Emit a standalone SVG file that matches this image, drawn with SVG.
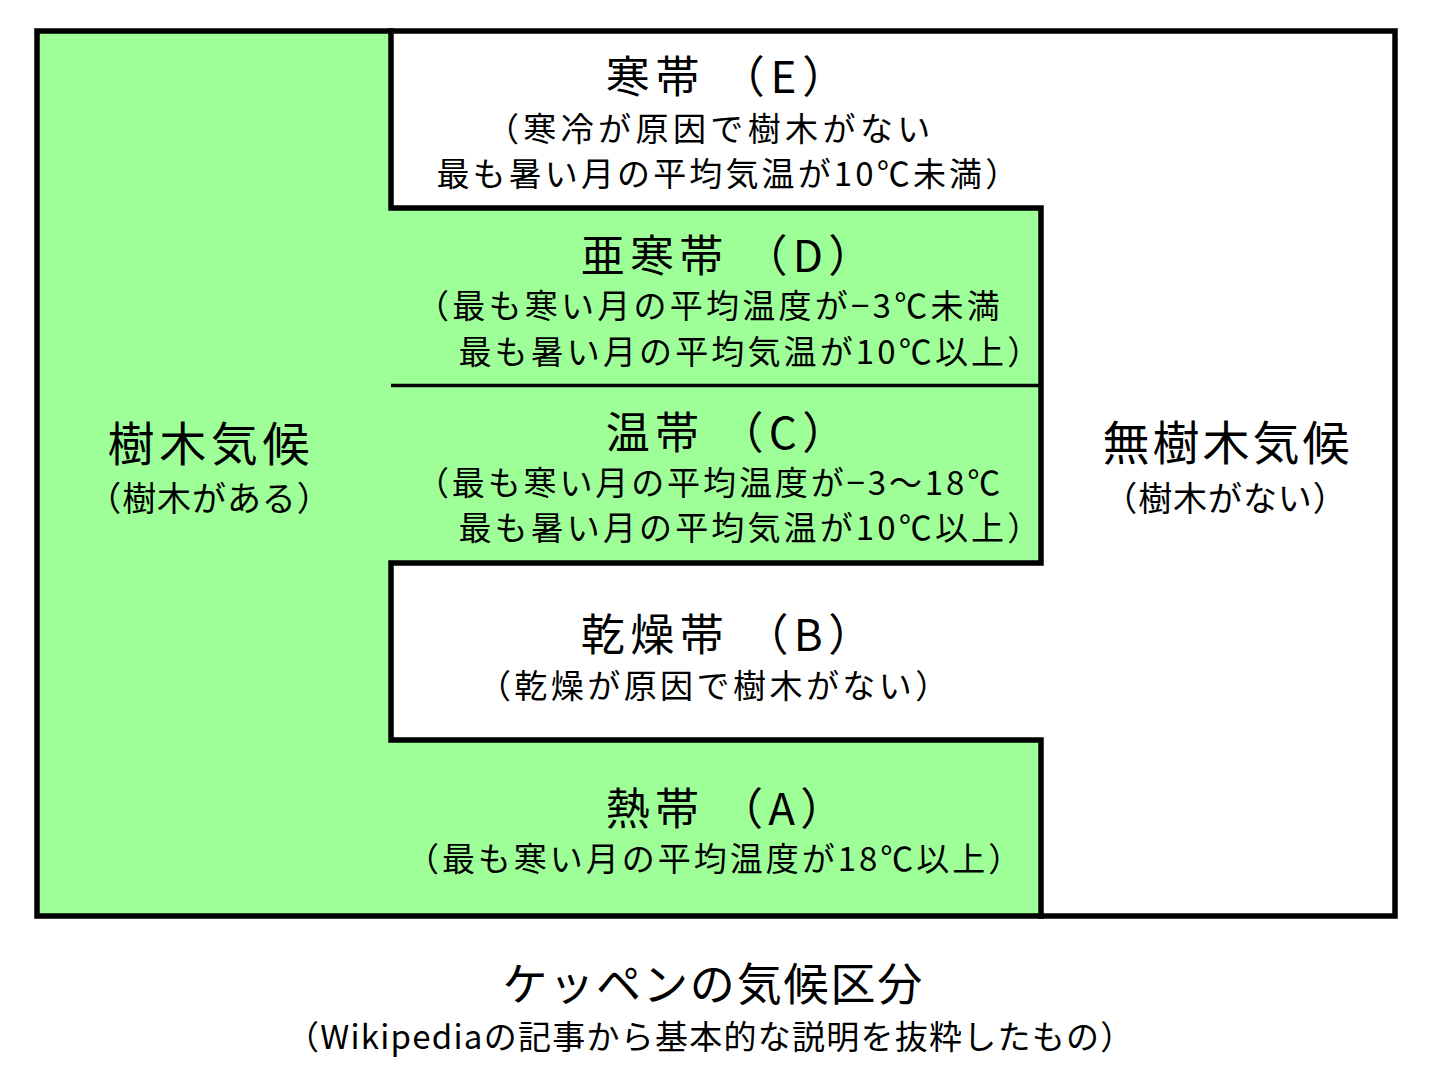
<svg xmlns="http://www.w3.org/2000/svg" width="1432" height="1077" viewBox="0 0 1432 1077">
<style>
text{font-family:"Noto Sans CJK JP","Noto Sans CJK SC",sans-serif;fill:#000}
.t{font-size:44px}
.s{font-size:33px}
.big{font-size:47px}
.sub{font-size:34px}
.cap{font-size:45px}
.edge{fill:none;stroke:#000;stroke-width:5.5;stroke-linejoin:miter;stroke-linecap:square}
.thin{fill:none;stroke:#000;stroke-width:3.5}
</style>
<rect x="0" y="0" width="1432" height="1077" fill="#fff"/>
<g id="zones-fill">
<polygon points="37,31 391,31 391,208 1041,208 1041,563 391,563 391,740 1041,740 1041,916 37,916" fill="#9eff99"/>
</g>
<g id="boundaries">
<rect class="edge" x="37" y="31" width="1358" height="885"/>
<polyline class="edge" points="391,31 391,208 1041,208 1041,563 391,563 391,740 1041,740 1041,916"/>
<line class="thin" x1="391" y1="385.5" x2="1041" y2="385.5"/>
</g>
<g id="tree-climate">
<text class="big" x="107.6" y="460.6" textLength="201.8" lengthAdjust="spacing">樹木気候</text>
<text class="sub" x="87.3" y="510.6" textLength="243.4" lengthAdjust="spacing">（樹木がある）</text>
</g>
<g id="non-tree-climate">
<text class="big" x="1102.6" y="459.6" textLength="246.8" lengthAdjust="spacing">無樹木気候</text>
<text class="sub" x="1103.3" y="510.6" textLength="243.4" lengthAdjust="spacing">（樹木がない）</text>
</g>
<g id="zone-E">
<text class="t" x="605.8" y="92.9" textLength="240.4" lengthAdjust="spacing">寒帯 （E）</text>
<text class="s" x="485.9" y="140.7" textLength="444.4" lengthAdjust="spacing">（寒冷が原因で樹木がない</text>
<text class="s" x="436.4" y="185.7" textLength="581.8" lengthAdjust="spacing">最も暑い月の平均気温が10℃未満）</text>
</g>
<g id="zone-D">
<text class="t" x="580.8" y="271.9" textLength="291.4" lengthAdjust="spacing">亜寒帯 （D）</text>
<text class="s" x="415.9" y="317.7" textLength="583.8" lengthAdjust="spacing">（最も寒い月の平均温度が−3℃未満</text>
<text class="s" x="458.4" y="363.7" textLength="581.8" lengthAdjust="spacing">最も暑い月の平均気温が10℃以上）</text>
</g>
<g id="zone-C">
<text class="t" x="605.8" y="448.9" textLength="240.4" lengthAdjust="spacing">温帯 （C）</text>
<text class="s" x="415.9" y="494.7" textLength="584.4" lengthAdjust="spacing">（最も寒い月の平均温度が−3〜18℃</text>
<text class="s" x="458.4" y="539.7" textLength="581.8" lengthAdjust="spacing">最も暑い月の平均気温が10℃以上）</text>
</g>
<g id="zone-B">
<text class="t" x="580.8" y="650.9" textLength="291.4" lengthAdjust="spacing">乾燥帯 （B）</text>
<text class="s" x="477.9" y="697.7" textLength="470.3" lengthAdjust="spacing">（乾燥が原因で樹木がない）</text>
</g>
<g id="zone-A">
<text class="t" x="605.8" y="824.9" textLength="238.4" lengthAdjust="spacing">熱帯 （A）</text>
<text class="s" x="405.9" y="870.7" textLength="615.3" lengthAdjust="spacing">（最も寒い月の平均温度が18℃以上）</text>
</g>
<g id="caption">
<text class="cap" x="502.4" y="1000.8" textLength="419.9" lengthAdjust="spacing">ケッペンの気候区分</text>
<text class="s" x="285.9" y="1048.7" textLength="847.3" lengthAdjust="spacing">（Wikipediaの記事から基本的な説明を抜粋したもの）</text>
</g>
</svg>
